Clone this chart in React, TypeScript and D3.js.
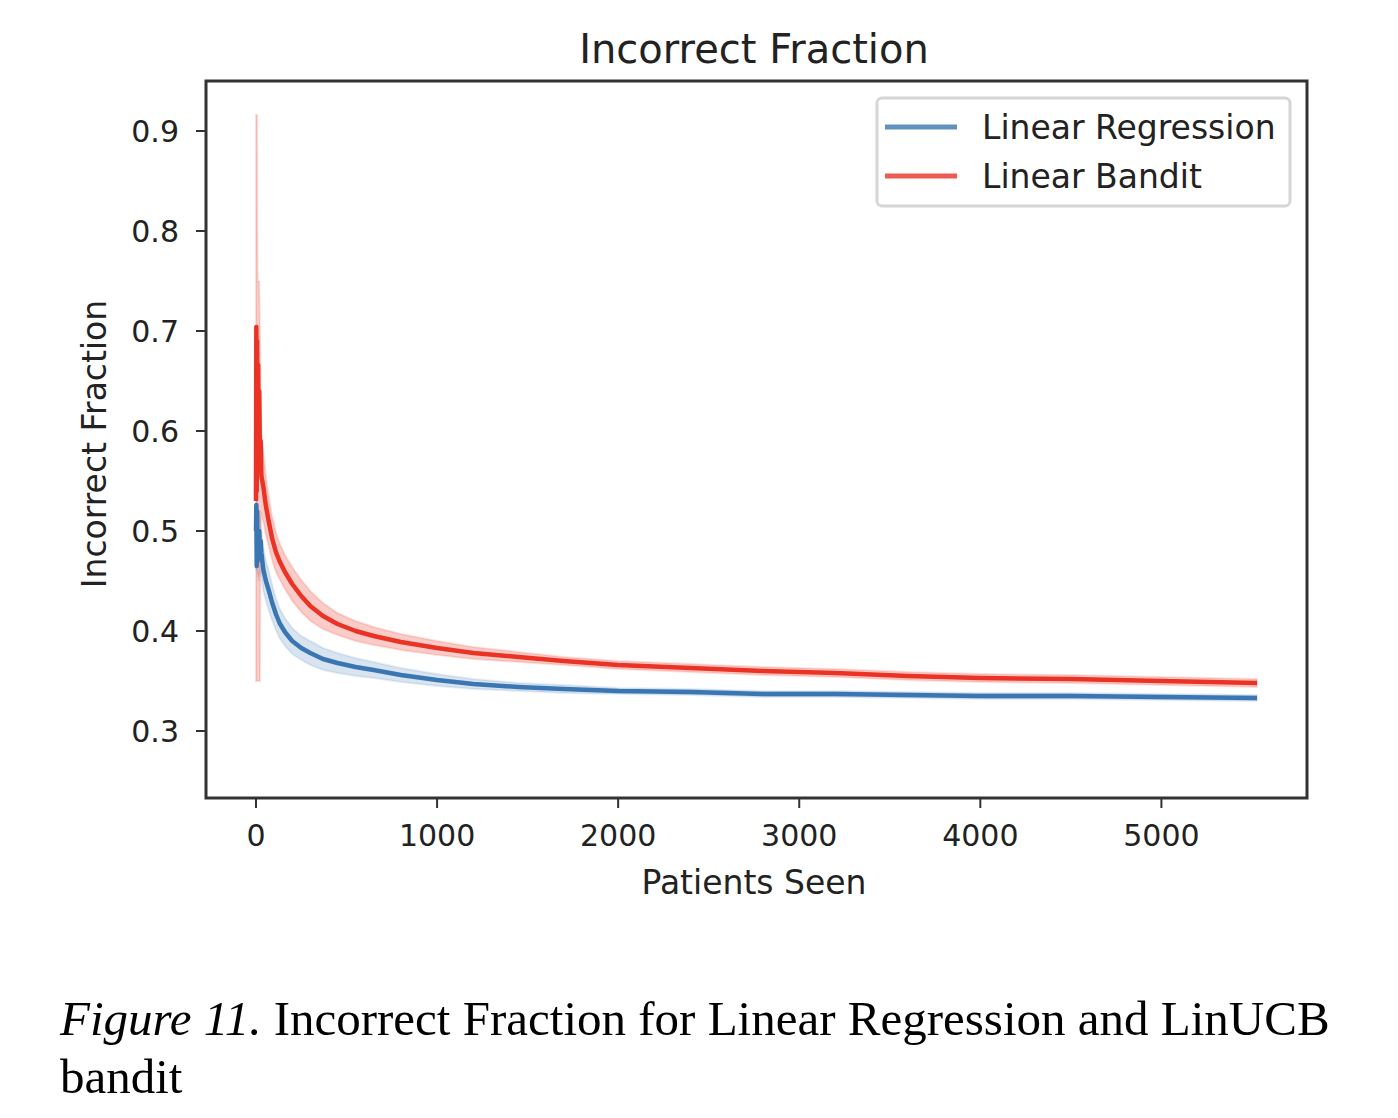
import * as d3 from 'd3';

// patients seen (sample points)
const patients = [0, 2, 4, 6, 9, 12, 15, 18, 22, 26, 30, 40, 55, 70, 90, 110, 130, 160, 200, 250, 300, 370, 450, 550, 650, 800, 1000, 1200, 1450, 1700, 2000, 2400, 2800, 3200, 3600, 4000, 4500, 5000, 5528];

// Linear Bandit mean incorrect fraction + band (lower / upper)
const banditMean = [0.53, 0.704, 0.54, 0.69, 0.58, 0.666, 0.56, 0.64, 0.57, 0.59, 0.555, 0.545, 0.525, 0.51, 0.492, 0.479, 0.47, 0.459, 0.447, 0.435, 0.425, 0.415, 0.407, 0.40, 0.395, 0.389, 0.383, 0.378, 0.374, 0.37, 0.366, 0.363, 0.36, 0.358, 0.355, 0.353, 0.352, 0.35, 0.348];
const banditLow = [0.35, 0.35, 0.35, 0.35, 0.35, 0.35, 0.35, 0.35, 0.35, 0.52, 0.515, 0.51, 0.495, 0.485, 0.47, 0.459, 0.452, 0.442, 0.43, 0.419, 0.41, 0.402, 0.396, 0.39, 0.386, 0.381, 0.376, 0.372, 0.369, 0.366, 0.362, 0.359, 0.356, 0.354, 0.351, 0.349, 0.348, 0.346, 0.344];
const banditHigh = [0.916, 0.916, 0.916, 0.916, 0.75, 0.75, 0.75, 0.75, 0.70, 0.63, 0.60, 0.58, 0.555, 0.535, 0.514, 0.499, 0.488, 0.476, 0.464, 0.451, 0.44, 0.428, 0.418, 0.41, 0.404, 0.397, 0.39, 0.384, 0.379, 0.374, 0.37, 0.367, 0.364, 0.362, 0.359, 0.357, 0.356, 0.354, 0.352];

// Linear Regression mean incorrect fraction + band
const regressionMean = [0.50, 0.526, 0.465, 0.52, 0.47, 0.50, 0.475, 0.50, 0.48, 0.49, 0.478, 0.462, 0.45, 0.441, 0.428, 0.417, 0.408, 0.399, 0.39, 0.383, 0.378, 0.372, 0.368, 0.364, 0.361, 0.356, 0.351, 0.347, 0.344, 0.342, 0.34, 0.339, 0.337, 0.337, 0.336, 0.335, 0.335, 0.334, 0.333];
const regressionLow = [0.461, 0.461, 0.461, 0.461, 0.455, 0.455, 0.45, 0.46, 0.455, 0.46, 0.455, 0.44, 0.43, 0.421, 0.41, 0.401, 0.393, 0.385, 0.377, 0.371, 0.366, 0.361, 0.358, 0.355, 0.353, 0.349, 0.345, 0.342, 0.34, 0.338, 0.337, 0.336, 0.334, 0.334, 0.333, 0.332, 0.332, 0.331, 0.33];
const regressionHigh = [0.526, 0.53, 0.53, 0.53, 0.52, 0.52, 0.52, 0.52, 0.51, 0.515, 0.50, 0.484, 0.47, 0.461, 0.446, 0.433, 0.423, 0.413, 0.403, 0.395, 0.39, 0.383, 0.378, 0.373, 0.369, 0.363, 0.357, 0.352, 0.348, 0.346, 0.343, 0.342, 0.34, 0.34, 0.339, 0.338, 0.338, 0.337, 0.336];

const xTicks = [0, 1000, 2000, 3000, 4000, 5000];
const yTicks = [0.3, 0.4, 0.5, 0.6, 0.7, 0.8, 0.9];

const seriesNames = ['Linear Regression', 'Linear Bandit'];

const BLUE = '#3a76b1';
const RED = '#ea3324';

const font = '"DejaVu Sans", sans-serif';
const serif = '"Liberation Serif", "Times New Roman", serif';

export default function App() {
  const left = 206, right = 1307, top = 81, bottom = 798;
  const x = d3.scaleLinear().domain([-276, 5804]).range([left, right]);
  const y = d3.scaleLinear().domain([0.233, 0.95]).range([bottom, top]);

  const line = (vals: number[]) =>
    d3.line<number>().x((_, i) => x(patients[i])).y((v) => y(v))(vals) as string;
  const band = (lo: number[], hi: number[]) =>
    d3.area<number>()
      .x((_, i) => x(patients[i]))
      .y0((_, i) => y(lo[i]))
      .y1((_, i) => y(hi[i]))(patients) as string;

  return (
    <svg width={1398} height={1118} style={{ position: 'absolute', left: 0, top: 0, background: '#fff' }}>
      <text x={754} y={63} textAnchor="middle" fontFamily={font} fontSize={40} fill="#222">
        Incorrect Fraction
      </text>

      <defs>
        <clipPath id="plot">
          <rect x={left} y={top} width={right - left} height={bottom - top} />
        </clipPath>
      </defs>

      <g clipPath="url(#plot)">
        <path d={band(regressionLow, regressionHigh)} fill={BLUE} fillOpacity={0.2} stroke={BLUE} strokeOpacity={0.12} strokeWidth={2} />
        <path d={band(banditLow, banditHigh)} fill={RED} fillOpacity={0.25} stroke={RED} strokeOpacity={0.15} strokeWidth={2} />
        <path d={line(regressionMean)} fill="none" stroke={BLUE} strokeWidth={4.5} strokeLinejoin="round" />
        <path d={line(banditMean)} fill="none" stroke={RED} strokeWidth={4.5} strokeLinejoin="round" />
      </g>

      {/* axes frame */}
      <rect x={left} y={top} width={right - left} height={bottom - top} fill="none" stroke="#333" strokeWidth={3} />

      {xTicks.map((t) => (
        <g key={t} transform={`translate(${x(t)},${bottom})`}>
          <line y1={0} y2={10} stroke="#333" strokeWidth={2} />
          <text y={48} textAnchor="middle" fontFamily={font} fontSize={30} fill="#222">{t}</text>
        </g>
      ))}
      {yTicks.map((t) => (
        <g key={t} transform={`translate(${left},${y(t)})`}>
          <line x1={0} x2={-10} stroke="#333" strokeWidth={2} />
          <text x={-27} dy="0.35em" textAnchor="end" fontFamily={font} fontSize={30} fill="#222">{t.toFixed(1)}</text>
        </g>
      ))}

      <text x={754} y={894} textAnchor="middle" fontFamily={font} fontSize={33} fill="#222">
        Patients Seen
      </text>
      <text transform={`translate(106,${444}) rotate(-90)`} textAnchor="middle" fontFamily={font} fontSize={33} fill="#222">
        Incorrect Fraction
      </text>

      {/* legend */}
      <g>
        <rect x={877} y={98} width={413} height={108} rx={5} fill="#fff" fillOpacity={0.8} stroke="#d6d6d6" strokeWidth={3} />
        {seriesNames.map((name, i) => (
          <g key={name} transform={`translate(885,${127 + i * 49})`}>
            <line x1={0} x2={72} stroke={i === 0 ? BLUE : RED} strokeOpacity={0.8} strokeWidth={5} />
            <text x={97} dy="0.35em" fontFamily={font} fontSize={33} fill="#222">{name}</text>
          </g>
        ))}
      </g>

      <text x={60} y={1035} fontFamily={serif} fontSize={49} fill="#000">
        <tspan fontStyle="italic">Figure 11.</tspan> Incorrect Fraction for Linear Regression and LinUCB
      </text>
      <text x={60} y={1093} fontFamily={serif} fontSize={49} fill="#000">
        bandit
      </text>
    </svg>
  );
}
